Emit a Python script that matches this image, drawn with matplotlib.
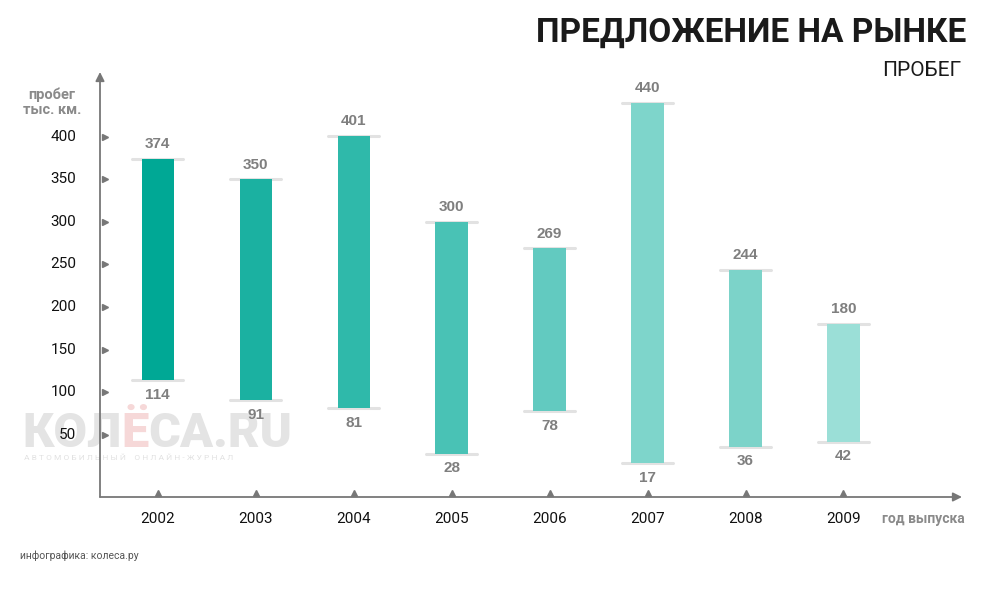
import matplotlib
matplotlib.use("Agg")
import matplotlib.pyplot as plt
import numpy as np

plt.rcParams['font.family'] = ['Roboto', 'DejaVu Sans']

years = ['2002', '2003', '2004', '2005', '2006', '2007', '2008', '2009']
mileage_max = [374, 350, 401, 300, 269, 440, 244, 180]
mileage_min = [114, 91, 81, 28, 78, 17, 36, 42]
bar_colors = ['#00a895', '#1bb1a1', '#2fb9aa', '#49c2b5', '#62cac0',
              '#7ed5cb', '#7cd3c9', '#9bdfd7']
yticks = [50, 100, 150, 200, 250, 300, 350, 400]

fig = plt.figure(figsize=(9.91, 5.92), dpi=100)
ax = fig.add_axes([100 / 991, 1 - 497 / 592, 862 / 991, 425 / 592])
ax.set_facecolor('none')

x = np.arange(len(years))
ax.set_xlim(-0.59, 8.21)
ax.set_ylim(-23, 476)

# столбики от минимума до максимума
for i in range(len(years)):
    lo, hi = mileage_min[i], mileage_max[i]
    ax.bar(x[i], hi - lo, bottom=lo, width=0.33, color=bar_colors[i], zorder=3)
    for v in (lo, hi):
        ax.plot([x[i] - 0.26, x[i] + 0.26], [v, v], color='#e2e2e2', lw=2.2,
                solid_capstyle='round', zorder=2)
    ax.text(x[i], hi + 9, str(hi), ha='center', va='bottom', fontsize=11,
            fontweight='bold', color='#7f7f7f', family='Liberation Sans')
    ax.text(x[i], lo - 9, str(lo), ha='center', va='top', fontsize=11,
            fontweight='bold', color='#7f7f7f', family='Liberation Sans')

for s in ax.spines.values():
    s.set_visible(False)
ax.set_xticks([])
ax.set_yticks([])

# оси со стрелками
ax.annotate('', xy=(0, 1), xytext=(0, 0), xycoords='axes fraction',
            arrowprops=dict(arrowstyle='-|>', color='#777777', lw=1.3,
                            mutation_scale=13, shrinkA=0, shrinkB=0))
ax.annotate('', xy=(1, 0), xytext=(0, 0), xycoords='axes fraction',
            arrowprops=dict(arrowstyle='-|>', color='#777777', lw=1.3,
                            mutation_scale=13, shrinkA=0, shrinkB=0))

# метки делений
ax.plot([-0.54] * len(yticks), yticks, linestyle='none', marker='>',
        markersize=5, color='#777777', clip_on=False)
for t in yticks:
    ax.text(-0.83, t, str(t), ha='right', va='center', fontsize=11, color='#111111')
ax.plot(x, [-18] * len(x), linestyle='none', marker='^', markersize=5,
        color='#777777', clip_on=False)
for i, yr in enumerate(years):
    ax.text(x[i], -49, yr, ha='center', va='center', fontsize=11, color='#111111')

fig.text(966 / 991, 1 - 33 / 592, 'ПРЕДЛОЖЕНИЕ НА РЫНКЕ', ha='right', va='center',
         fontsize=24, fontweight='bold', color='#1a1a1a')
fig.text(961 / 991, 1 - 70 / 592, 'ПРОБЕГ', ha='right', va='center',
         fontsize=15, color='#1a1a1a')
fig.text(52 / 991, 1 - 95 / 592, 'пробег', ha='center', va='center',
         fontsize=10.5, fontweight='bold', color='#8a8a8a')
fig.text(52 / 991, 1 - 110 / 592, 'тыс. км.', ha='center', va='center',
         fontsize=10.5, fontweight='bold', color='#8a8a8a')
fig.text(965 / 991, 1 - 519 / 592, 'год выпуска', ha='right', va='center',
         fontsize=10, fontweight='bold', color='#8a8a8a')
fig.text(20 / 991, 1 - 556 / 592, 'инфографика: колеса.ру', ha='left', va='center',
         fontsize=7.5, color='#555555')

# водяной знак
fig.canvas.draw()
r = fig.canvas.get_renderer()
xpos = 22
for part, col in [('КОЛ', '#e4e4e4'), ('Ё', '#f6d8d8'), ('СА.RU', '#e4e4e4')]:
    t = fig.text(xpos / 991, 1 - 434 / 592, part, ha='left', va='center',
                 fontsize=35, fontweight='black', color=col, zorder=-1)
    xpos += t.get_window_extent(r).width
fig.text(24 / 991, 1 - 458 / 592,
         'А В Т О М О Б И Л Ь Н Ы Й    О Н Л А Й Н - Ж У Р Н А Л', ha='left',
         va='center', fontsize=6, color='#e2e2e2', zorder=-1)

fig.savefig('out.png', dpi=100)
